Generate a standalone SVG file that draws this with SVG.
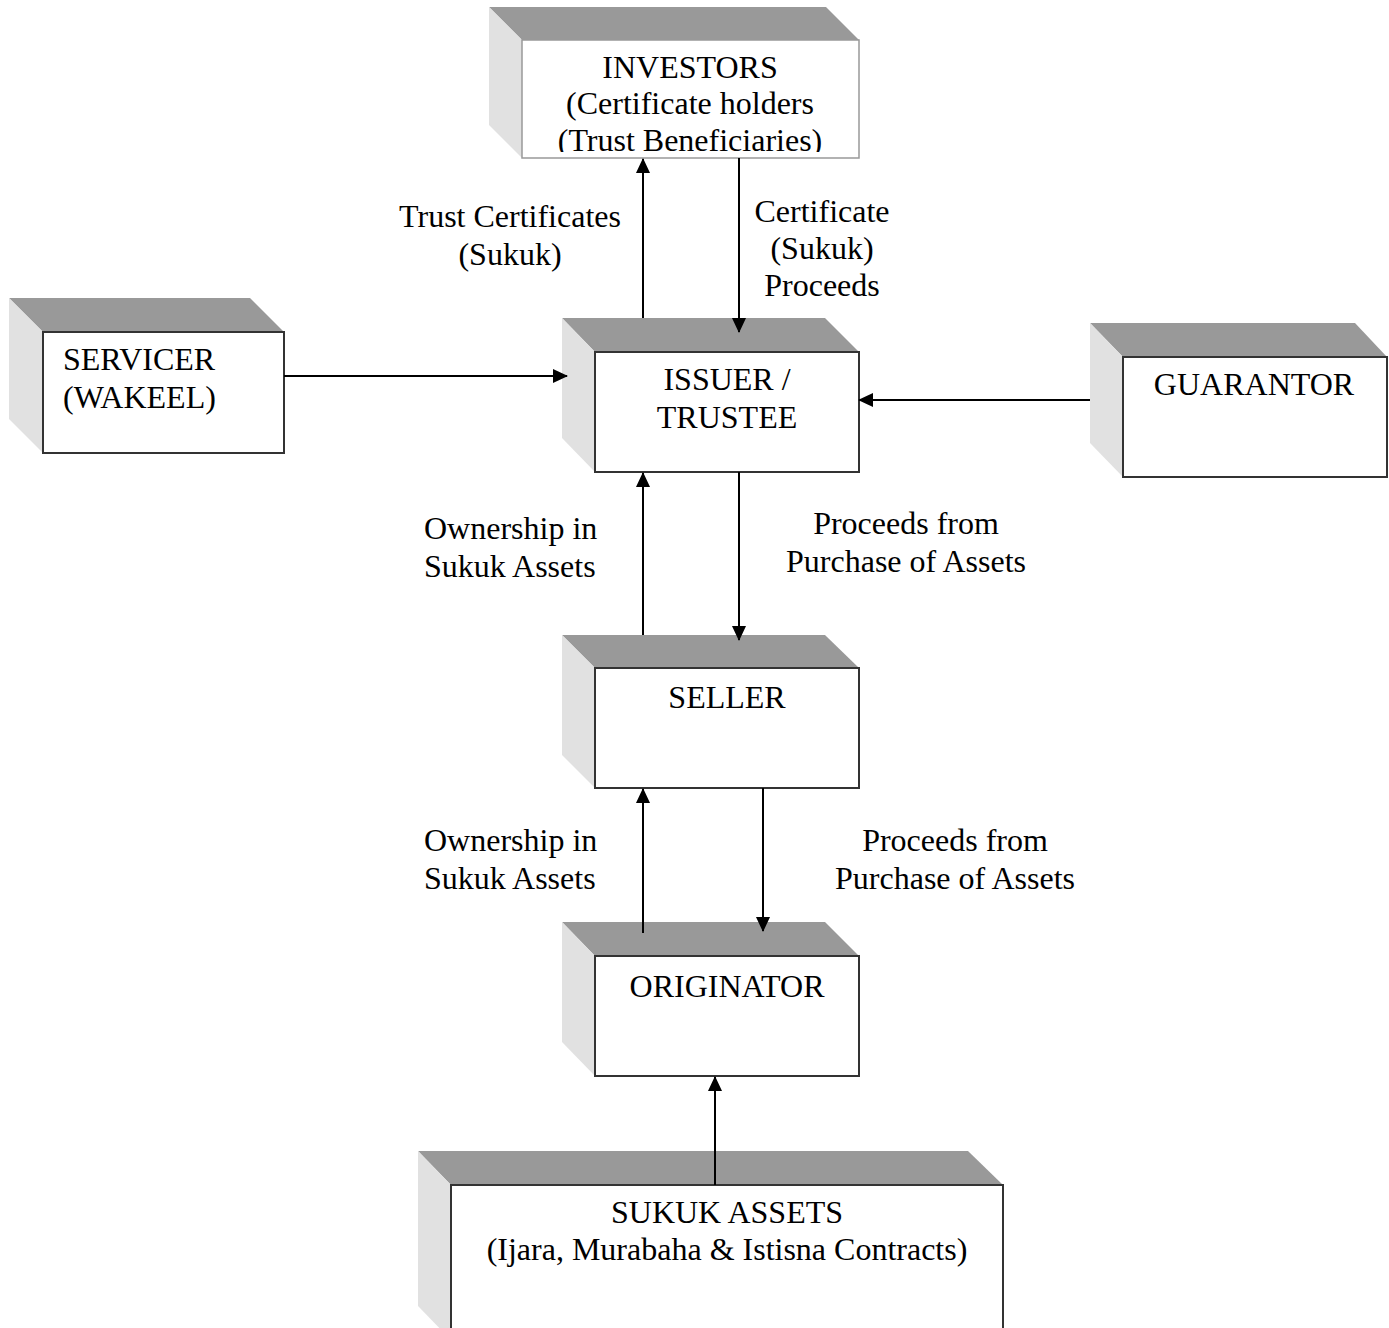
<svg xmlns="http://www.w3.org/2000/svg" width="1389" height="1328" viewBox="0 0 1389 1328">
<defs>
<style>
.top{fill:#999999}
.side{fill:#e1e1e1}
.front{fill:#ffffff;stroke:#333333;stroke-width:2}
.t{font-family:"Liberation Serif","Times New Roman",serif;font-size:32px;fill:#000}
.c{text-anchor:middle}
.conn line{stroke:#000;stroke-width:2}
</style>
<marker id="ah" markerUnits="userSpaceOnUse" markerWidth="15" markerHeight="14" refX="14" refY="7" orient="auto">
<path d="M0,0 L15,7 L0,14 z" fill="#000"/>
</marker>
<clipPath id="invclip"><rect x="480" y="0" width="400" height="152"/></clipPath>
<clipPath id="procclip"><rect x="740" y="190" width="200" height="106"/></clipPath>
</defs>
<rect width="1389" height="1328" fill="#ffffff"/>

<g id="investors">
<polygon class="top" points="489,7 826,7 859,40 522,40"/>
<polygon class="side" points="489,7 522,40 522,158 489,125"/>
<rect x="522" y="40" width="337" height="118" fill="#fff" stroke="#999" stroke-width="1.5"/>
<g clip-path="url(#invclip)">
<text class="t c" x="690" y="78">INVESTORS</text>
<text class="t c" x="690" y="114">(Certificate holders</text>
<text class="t c" x="690" y="151">(Trust Beneficiaries)</text>
</g>
</g>

<g id="servicer">
<polygon class="top" points="9,298 250,298 284,332 43,332"/>
<polygon class="side" points="9,298 43,332 43,453 9,419"/>
<rect class="front" x="43" y="332" width="241" height="121"/>
<text class="t" x="63" y="370">SERVICER</text>
<text class="t" x="63" y="408">(WAKEEL)</text>
</g>

<g id="issuer">
<polygon class="top" points="562,318 825,318 859,352 595,352"/>
<polygon class="side" points="562,318 595,352 595,472 562,438"/>
<rect class="front" x="595" y="352" width="264" height="120"/>
<text class="t c" x="727" y="390">ISSUER /</text>
<text class="t c" x="727" y="428">TRUSTEE</text>
</g>

<g id="guarantor">
<polygon class="top" points="1090,323 1355,323 1387,357 1123,357"/>
<polygon class="side" points="1090,323 1123,357 1123,477 1090,443"/>
<rect class="front" x="1123" y="357" width="264" height="120"/>
<text class="t c" x="1254" y="395">GUARANTOR</text>
</g>

<g id="seller">
<polygon class="top" points="562,635 825,635 859,668 595,668"/>
<polygon class="side" points="562,635 595,668 595,788 562,755"/>
<rect class="front" x="595" y="668" width="264" height="120"/>
<text class="t c" x="727" y="708">SELLER</text>
</g>

<g id="originator">
<polygon class="top" points="562,922 825,922 859,956 595,956"/>
<polygon class="side" points="562,922 595,956 595,1076 562,1042"/>
<rect class="front" x="595" y="956" width="264" height="120"/>
<text class="t c" x="727" y="997">ORIGINATOR</text>
</g>

<g id="sukuk-assets">
<polygon class="top" points="418,1151 968,1151 1003,1185 451,1185"/>
<polygon class="side" points="418,1151 451,1185 451,1340 418,1306"/>
<rect class="front" x="451" y="1185" width="552" height="160"/>
<text class="t c" x="727" y="1223">SUKUK ASSETS</text>
<text class="t c" x="727" y="1260">(Ijara, Murabaha &amp; Istisna Contracts)</text>
</g>

<g id="connectors" class="conn">
<line x1="643" y1="318" x2="643" y2="159" marker-end="url(#ah)"/>
<line x1="739" y1="158" x2="739" y2="332" marker-end="url(#ah)"/>
<line x1="284" y1="376" x2="567" y2="376" marker-end="url(#ah)"/>
<line x1="1090" y1="400" x2="859" y2="400" marker-end="url(#ah)"/>
<line x1="643" y1="635" x2="643" y2="473" marker-end="url(#ah)"/>
<line x1="739" y1="472" x2="739" y2="640" marker-end="url(#ah)"/>
<line x1="643" y1="933" x2="643" y2="789" marker-end="url(#ah)"/>
<line x1="763" y1="788" x2="763" y2="931" marker-end="url(#ah)"/>
<line x1="715" y1="1185" x2="715" y2="1077" marker-end="url(#ah)"/>
</g>

<g id="labels">
<text class="t c" x="510" y="227">Trust Certificates</text>
<text class="t c" x="510" y="265">(Sukuk)</text>
<g clip-path="url(#procclip)">
<text class="t c" x="822" y="222">Certificate</text>
<text class="t c" x="822" y="259">(Sukuk)</text>
<text class="t c" x="822" y="296">Proceeds</text>
</g>
<text class="t" x="424" y="539">Ownership in</text>
<text class="t" x="424" y="577">Sukuk Assets</text>
<text class="t c" x="906" y="534">Proceeds from</text>
<text class="t c" x="906" y="572">Purchase of Assets</text>
<text class="t" x="424" y="851">Ownership in</text>
<text class="t" x="424" y="889">Sukuk Assets</text>
<text class="t c" x="955" y="851">Proceeds from</text>
<text class="t c" x="955" y="889">Purchase of Assets</text>
</g>
</svg>
